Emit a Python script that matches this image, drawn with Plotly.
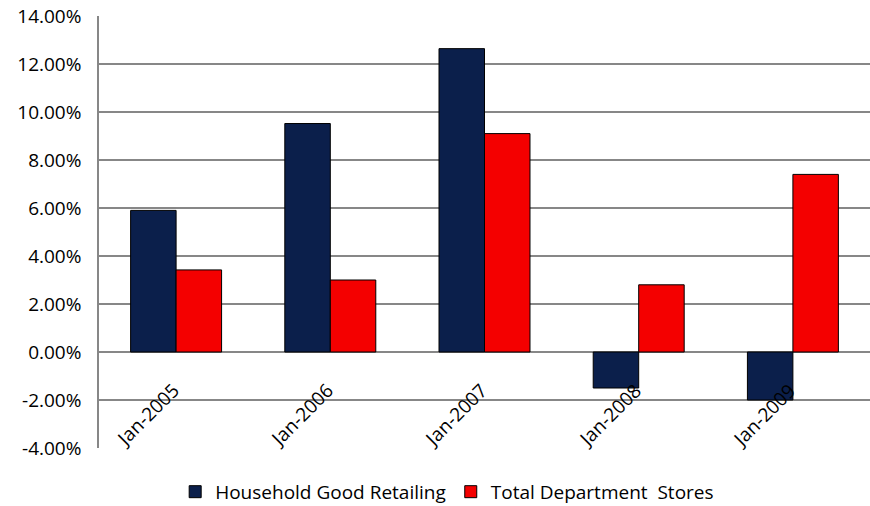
import plotly.graph_objects as go

categories = ["Jan-2005", "Jan-2006", "Jan-2007", "Jan-2008", "Jan-2009"]
household = [5.9, 9.52, 12.64, -1.5, -2.0]
dept_stores = [3.42, 3.0, 9.1, 2.8, 7.4]
series_names = ["Household Good Retailing", "Total Department  Stores"]
ytick_vals = [-4, -2, 0, 2, 4, 6, 8, 10, 12, 14]

FONT = "Open Sans"

fig = go.Figure()
fig.add_trace(go.Bar(x=categories, y=household, name=series_names[0],
                     marker=dict(color="#0b1f4b", line=dict(color="#000000", width=1))))
fig.add_trace(go.Bar(x=categories, y=dept_stores, name=series_names[1],
                     marker=dict(color="#f40000", line=dict(color="#000000", width=1))))

for c in categories:
    fig.add_annotation(x=c, y=-0.95, xref="x", yref="y", text=c, showarrow=False,
                       textangle=-45, xanchor="right", yanchor="top", xshift=11,
                       font=dict(family=FONT, size=19, color="#000000"))

fig.update_layout(
    width=870, height=506,
    margin=dict(l=99, r=0, t=16, b=58, autoexpand=False),
    paper_bgcolor="white", plot_bgcolor="white",
    barmode="group", bargap=0.41, bargroupgap=0,
    font=dict(family=FONT, size=19, color="#000000"),
    showlegend=True,
    legend=dict(orientation="h", x=0.514, xref="container", xanchor="center",
                y=0.028, yref="container", yanchor="middle",
                font=dict(family=FONT, size=19), itemwidth=30, traceorder="normal"),
)
fig.update_xaxes(showticklabels=False, showgrid=False, zeroline=False, showline=False, ticks="")
fig.update_yaxes(range=[-4, 14], tickvals=ytick_vals,
                 ticktext=[f"{v:.2f}%" for v in ytick_vals],
                 showgrid=True, gridcolor="#878787", gridwidth=1.5,
                 zeroline=True, zerolinecolor="#878787", zerolinewidth=1.5,
                 showline=True, linecolor="#878787", linewidth=1.5,
                 ticks="", ticklabelstandoff=12)

fig.write_html("out.html")
